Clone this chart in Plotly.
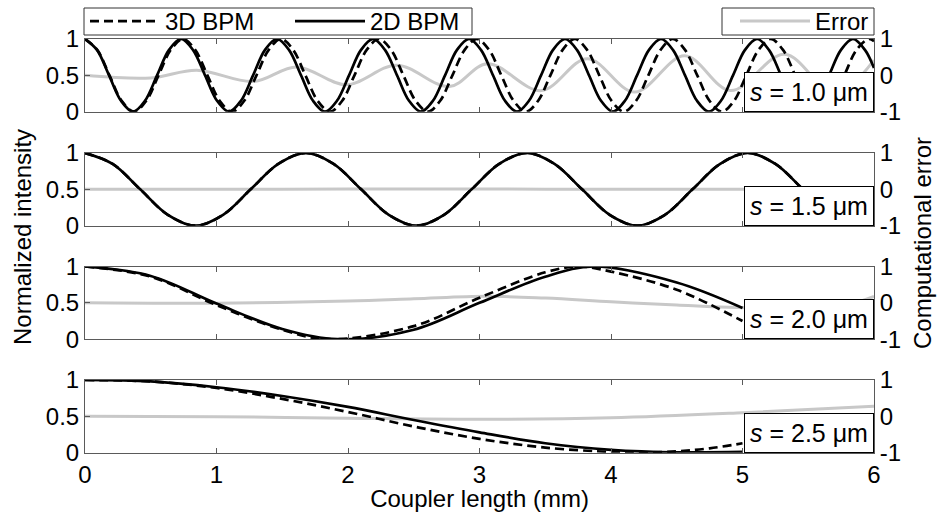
import plotly.graph_objects as go

# ---------------- data ----------------
# s = 1.0 um
x2d_s10 = [0, 0.091, 0.183, 0.274, 0.365, 0.456, 0.548, 0.639, 0.730, 0.821, 0.913, 1.004,
           1.095, 1.186, 1.278, 1.369, 1.460, 1.551, 1.643, 1.734, 1.825, 1.916, 2.008, 2.099,
           2.190, 2.281, 2.373, 2.464, 2.555, 2.646, 2.738, 2.829, 2.920, 3.011, 3.103, 3.194,
           3.285, 3.376, 3.468, 3.559, 3.650, 3.741, 3.833, 3.924, 4.015, 4.106, 4.198, 4.289,
           4.380, 4.471, 4.563, 4.654, 4.745, 4.836, 4.928, 5.019, 5.110, 5.201, 5.293, 5.384,
           5.475, 5.566, 5.658, 5.749, 5.840, 5.931, 6.0]
i2d_s10 = [1, 0.85, 0.5, 0.15, 0, 0.15, 0.5, 0.85, 1, 0.85, 0.5, 0.15,
           0, 0.15, 0.5, 0.85, 1, 0.85, 0.5, 0.15, 0, 0.15, 0.5, 0.85,
           1, 0.85, 0.5, 0.15, 0, 0.15, 0.5, 0.85, 1, 0.85, 0.5, 0.15,
           0, 0.15, 0.5, 0.85, 1, 0.85, 0.5, 0.15, 0, 0.15, 0.5, 0.85,
           1, 0.85, 0.5, 0.15, 0, 0.15, 0.5, 0.85, 1, 0.85, 0.5, 0.15,
           0, 0.15, 0.5, 0.85, 1, 0.85, 0.60]
x3d_s10 = [0, 0.093, 0.186, 0.279, 0.373, 0.466, 0.559, 0.652, 0.745, 0.838, 0.931, 1.024,
           1.118, 1.211, 1.304, 1.397, 1.490, 1.583, 1.676, 1.769, 1.863, 1.956, 2.049, 2.142,
           2.235, 2.328, 2.421, 2.514, 2.608, 2.701, 2.794, 2.887, 2.980, 3.073, 3.166, 3.259,
           3.353, 3.446, 3.539, 3.632, 3.725, 3.818, 3.911, 4.004, 4.098, 4.191, 4.284, 4.377,
           4.470, 4.563, 4.656, 4.749, 4.843, 4.936, 5.029, 5.122, 5.215, 5.308, 5.401, 5.494,
           5.588, 5.681, 5.774, 5.867, 5.960, 6.0]
i3d_s10 = [1, 0.85, 0.5, 0.15, 0, 0.15, 0.5, 0.85, 1, 0.85, 0.5, 0.15,
           0, 0.15, 0.5, 0.85, 1, 0.85, 0.5, 0.15, 0, 0.15, 0.5, 0.85,
           1, 0.85, 0.5, 0.15, 0, 0.15, 0.5, 0.85, 1, 0.85, 0.5, 0.15,
           0, 0.15, 0.5, 0.85, 1, 0.85, 0.5, 0.15, 0, 0.15, 0.5, 0.85,
           1, 0.85, 0.5, 0.15, 0, 0.15, 0.5, 0.85, 1, 0.85, 0.5, 0.15,
           0, 0.15, 0.5, 0.85, 1, 0.97]
xerr_s10 = [0, 0.50, 0.85, 1.28, 1.61, 1.99, 2.37, 2.77, 3.06, 3.47, 3.82, 4.18, 4.56,
            4.91, 5.32, 5.70, 6.0]
err_s10 = [0, -0.07, 0.14, -0.17, 0.23, -0.26, 0.28, -0.31, 0.32, -0.42, 0.46, -0.46, 0.54,
           -0.42, 0.58, -0.5, 0.42]

# s = 1.5 um
x2d_s15 = [0, 0.21, 0.42, 0.63, 0.84, 1.05, 1.26, 1.47, 1.68, 1.89, 2.10, 2.31, 2.52, 2.73,
           2.94, 3.15, 3.36, 3.57, 3.78, 3.99, 4.20, 4.41, 4.62, 4.83, 5.04, 5.25, 5.46, 5.67]
i2d_s15 = [1, 0.85, 0.5, 0.15, 0, 0.15, 0.5, 0.85, 1, 0.85, 0.5, 0.15, 0, 0.15,
           0.5, 0.85, 1, 0.85, 0.5, 0.15, 0, 0.15, 0.5, 0.85, 1, 0.85, 0.5, 0.15]
x3d_s15 = [0, 0.21, 0.42, 0.63, 0.84, 1.05, 1.26, 1.47, 1.68, 1.89, 2.10, 2.31, 2.52, 2.73,
           2.94, 3.15, 3.36, 3.57, 3.78, 3.99, 4.20, 4.41, 4.62, 4.83, 5.04, 5.25, 5.46, 5.67]
i3d_s15 = [1, 0.85, 0.5, 0.15, 0, 0.15, 0.5, 0.85, 1, 0.85, 0.5, 0.15, 0, 0.15,
           0.5, 0.85, 1, 0.85, 0.5, 0.15, 0, 0.15, 0.5, 0.85, 1, 0.85, 0.5, 0.15]
xerr_s15 = [0, 1, 2, 3, 4, 5, 6]
err_s15 = [0, 0, 0.01, 0.01, 0, 0, 0]

# s = 2.0 um
x2d_s20 = [0, 0.5, 1.0, 1.5, 1.92, 2.5, 3.0, 3.5, 3.87, 4.5, 5.0]
i2d_s20 = [1, 0.87, 0.49, 0.14, 0.0, 0.13, 0.5, 0.86, 1.0, 0.78, 0.43]
x3d_s20 = [0, 0.5, 1.0, 1.5, 1.85, 2.5, 3.0, 3.5, 3.75, 4.0, 4.5, 5.0]
i3d_s20 = [1, 0.86, 0.47, 0.13, 0.0, 0.18, 0.57, 0.92, 1.0, 0.93, 0.68, 0.25]
xerr_s20 = [0, 1, 2, 2.5, 3.05, 3.5, 4, 4.5, 4.96, 5.4, 5.8, 6.0]
err_s20 = [0, -0.01, 0.05, 0.11, 0.18, 0.13, 0.03, -0.06, -0.13, -0.12, -0.04, 0.18]

# s = 2.5 um
x2d_s25 = [0, 0.5, 1.0, 1.5, 2.0, 2.5, 3.0, 3.5, 4.0, 4.5, 5.0]
i2d_s25 = [1, 0.98, 0.9, 0.78, 0.63, 0.45, 0.28, 0.13, 0.04, 0.005, 0.01]
x3d_s25 = [0, 0.5, 1.0, 1.5, 2.0, 2.5, 3.0, 3.5, 4.0, 4.2, 4.5, 4.75, 5.0]
i3d_s25 = [1, 0.98, 0.89, 0.74, 0.56, 0.36, 0.19, 0.07, 0.01, 0.0, 0.02, 0.06, 0.13]
xerr_s25 = [0, 1, 2, 3, 4, 5, 6]
err_s25 = [0, -0.01, -0.05, -0.08, -0.04, 0.1, 0.28]

panel_labels = ["<i>s</i> = 1.0 μm", "<i>s</i> = 1.5 μm", "<i>s</i> = 2.0 μm", "<i>s</i> = 2.5 μm"]
series_names = ["3D BPM", "2D BPM", "Error"]
x_tickvals = [0, 1, 2, 3, 4, 5, 6]
int_tickvals = [0, 0.5, 1]
int_ticktext = ["0", "0.5", "1"]
err_tickvals = [-1, 0, 1]
err_ticktext = ["-1", "0", "1"]
x_title = "Coupler length (mm)"
left_title = "Normalized intensity"
right_title = "Computational error"

panels = [
    (x3d_s10, i3d_s10, x2d_s10, i2d_s10, xerr_s10, err_s10),
    (x3d_s15, i3d_s15, x2d_s15, i2d_s15, xerr_s15, err_s15),
    (x3d_s20, i3d_s20, x2d_s20, i2d_s20, xerr_s20, err_s20),
    (x3d_s25, i3d_s25, x2d_s25, i2d_s25, xerr_s25, err_s25),
]

# ---------------- styling / layout ----------------
W, H = 940, 512
ML, MR, MT, MB = 85, 66, 39, 59
PH = H - MT - MB
PW = W - ML - MR
panel_tops = [39, 153, 266.5, 380]
panel_h = 72.7
FONT = "Liberation Sans, Arial, sans-serif"
FS = 24
AXC = "#5a5a5a"
GRAY = "#c8c8c8"


def px_x(px):
    return (px - ML) / PW


def px_y(py):
    return (H - MB - py) / PH


fig = go.Figure()
layout = dict(
    width=W, height=H,
    margin=dict(l=ML, r=MR, t=MT, b=MB, autoexpand=False),
    paper_bgcolor="white", plot_bgcolor="white",
    font=dict(family=FONT, size=FS, color="black"),
    showlegend=True,
)

for k, (x3, y3, x2, y2, xe, ye) in enumerate(panels):
    xa = "x" if k == 0 else f"x{k+1}"
    ye_ax = f"y{2*k+1}" if k > 0 else "y"
    yi_ax = f"y{2*k+2}"
    first = (k == 0)
    fig.add_trace(go.Scatter(x=xe, y=ye, xaxis=xa, yaxis=ye_ax, mode="lines",
                             line=dict(color=GRAY, width=3, shape="spline"),
                             name=series_names[2], showlegend=first, legend="legend2"))
    fig.add_trace(go.Scatter(x=x3, y=y3, xaxis=xa, yaxis=yi_ax, mode="lines",
                             line=dict(color="black", width=2.7, dash="9px,5px", shape="spline"),
                             name=series_names[0], showlegend=first, legend="legend"))
    fig.add_trace(go.Scatter(x=x2, y=y2, xaxis=xa, yaxis=yi_ax, mode="lines",
                             line=dict(color="black", width=2.7, shape="spline"),
                             name=series_names[1], showlegend=first, legend="legend"))

    top = panel_tops[k]
    dom = [px_y(top + panel_h), px_y(top)]
    dom = [max(0, dom[0]), min(1, dom[1])]
    xkey = "xaxis" if k == 0 else f"xaxis{k+1}"
    yekey = "yaxis" if k == 0 else f"yaxis{2*k+1}"
    yikey = f"yaxis{2*k+2}"
    layout[xkey] = dict(domain=[0, 1], range=[0, 6], anchor=ye_ax, tickvals=x_tickvals,
                        ticks="inside", ticklen=5, tickcolor=AXC, showline=True, linecolor=AXC,
                        linewidth=1, mirror="ticks", showgrid=False, zeroline=False,
                        showticklabels=(k == 3), tickfont=dict(size=FS), automargin=False)
    if k == 3:
        layout[xkey]["title"] = dict(text=x_title, font=dict(size=FS), standoff=4)
    layout[yekey] = dict(domain=dom, range=[-1, 1], anchor=xa, side="right",
                         tickvals=err_tickvals, ticktext=err_ticktext, ticks="inside",
                         ticklen=5, tickcolor=AXC, showline=True, linecolor=AXC, linewidth=1,
                         showgrid=False, zeroline=False, tickfont=dict(size=FS), automargin=False)
    layout[yikey] = dict(overlaying=ye_ax, range=[0, 1], anchor=xa, side="left",
                         tickvals=int_tickvals, ticktext=int_ticktext, ticks="inside",
                         ticklen=5, tickcolor=AXC, showline=True, linecolor=AXC, linewidth=1,
                         showgrid=False, zeroline=False, tickfont=dict(size=FS), automargin=False)

annotations = []
for k in range(4):
    xa = "x" if k == 0 else f"x{k+1}"
    ye_ax = "y" if k == 0 else f"y{2*k+1}"
    annotations.append(dict(text=panel_labels[k], xref=f"{xa} domain", yref=f"{ye_ax} domain",
                            x=1, y=0, xanchor="right", yanchor="bottom", showarrow=False,
                            bgcolor="white", bordercolor="black", borderwidth=1, borderpad=5,
                            font=dict(size=25)))
annotations.append(dict(text=left_title, xref="paper", yref="paper", x=px_x(22),
                        y=px_y(237), textangle=-90, showarrow=False,
                        xanchor="center", yanchor="middle", font=dict(size=FS)))
annotations.append(dict(text=right_title, xref="paper", yref="paper", x=px_x(922),
                        y=px_y(243), textangle=-90, showarrow=False,
                        xanchor="center", yanchor="middle", font=dict(size=FS)))
layout["annotations"] = annotations

# legend frames (MATLAB-style thin boxes), legends themselves are transparent
layout["shapes"] = [
    dict(type="rect", xref="paper", yref="paper", x0=px_x(84), x1=px_x(472),
         y0=px_y(35), y1=px_y(8), line=dict(color="#333333", width=1), fillcolor="white",
         layer="below"),
    dict(type="rect", xref="paper", yref="paper", x0=px_x(722), x1=px_x(874),
         y0=px_y(35), y1=px_y(8), line=dict(color="#333333", width=1), fillcolor="white",
         layer="below"),
]

leg_y = px_y(-1)
layout["legend"] = dict(orientation="h", x=0, xanchor="left", y=leg_y, yanchor="top",
                        borderwidth=0, bgcolor="rgba(0,0,0,0)",
                        font=dict(size=FS), entrywidth=120, entrywidthmode="pixels",
                        itemwidth=70, tracegroupgap=0)
layout["legend2"] = dict(orientation="h", x=1, xanchor="right", y=leg_y, yanchor="top",
                         borderwidth=0, bgcolor="rgba(0,0,0,0)",
                         font=dict(size=FS), itemwidth=70)

fig.update_layout(**layout)
fig.write_html("out.html")
